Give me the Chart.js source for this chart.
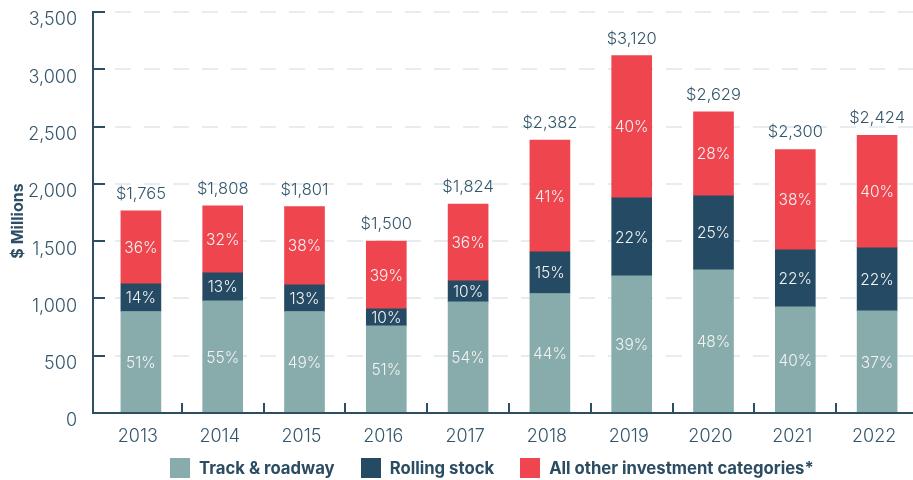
<!DOCTYPE html>
<html>
<head>
<meta charset="utf-8">
<script src="https://cdn.jsdelivr.net/npm/chart.js@4"></script>
<style>
  html, body { margin: 0; padding: 0; background: #fff; overflow: hidden; }
  #wrap { position: relative; width: 913px; height: 480px; overflow: hidden; }
  #chart { position: absolute; left: 0; top: 0; }
  #legend { position: absolute; left: 170px; top: 458px; display: flex; align-items: center;
            font-family: Inter, "Noto Sans", sans-serif; font-weight: 700; font-size: 16.7px; color: #2b4c62; }
  .item { display: flex; align-items: center; margin-right: 26px; }
  .sw { width: 20px; height: 20px; margin-right: 9px; }
</style>
</head>
<body>
<div id="wrap">
  <canvas id="chart" width="920" height="480"></canvas>
  <div id="legend"></div>
</div>
<script>
const years = ['2013', '2014', '2015', '2016', '2017', '2018', '2019', '2020', '2021', '2022'];
const totals = [1765, 1808, 1801, 1500, 1824, 2382, 3120, 2629, 2300, 2424];
// $ millions per category
const trackRoadway = [886, 979, 886, 761, 971, 1043, 1197, 1250, 927, 892];
const rollingStock = [242, 245, 233, 149, 183, 364, 681, 645, 497, 550];
const otherInvestment = [637, 584, 682, 590, 670, 975, 1242, 734, 876, 982];
// share labels printed in the bars
const trackPct = ['51%', '55%', '49%', '51%', '54%', '44%', '39%', '48%', '40%', '37%'];
const rollingPct = ['14%', '13%', '13%', '10%', '10%', '15%', '22%', '25%', '22%', '22%'];
const otherPct = ['36%', '32%', '38%', '39%', '36%', '41%', '40%', '28%', '38%', '40%'];
const yTicks = [0, 500, 1000, 1500, 2000, 2500, 3000, 3500];

const seriesNames = ['Track & roadway', 'Rolling stock', 'All other investment categories*'];
const colors = ['#87acab', '#244b63', '#ef454e'];
const axisColor = '#2d4f65';
const textColor = '#34566c';
const gridColor = '#e7ecef';
const FONT = 'Inter, "Noto Sans", sans-serif';

const pctLabels = [trackPct, rollingPct, otherPct];

// axes, gridlines, labels drawn by hand to match the original look
const decor = {
    id: 'decor',
    beforeDatasetsDraw(chart) {
        const { ctx, chartArea: a, scales: { y } } = chart;
        const axisX = a.left - 7;
        ctx.save();
        ctx.strokeStyle = gridColor;
        ctx.lineWidth = 2;
        ctx.setLineDash([16, 13]);
        yTicks.forEach(v => {
            if (v === 0) return;
            const py = Math.round(y.getPixelForValue(v));
            ctx.beginPath();
            ctx.moveTo(axisX + 22, py);
            ctx.lineTo(a.right, py);
            ctx.stroke();
        });
        ctx.restore();
    },
    afterDatasetsDraw(chart) {
        const { ctx, chartArea: a, scales: { x, y } } = chart;
        const axisX = a.left - 7;
        const baseY = Math.round(y.getPixelForValue(0));
        ctx.save();
        ctx.strokeStyle = axisColor;
        ctx.lineWidth = 2;
        ctx.beginPath();
        ctx.moveTo(axisX, Math.round(y.getPixelForValue(3500)) - 1);
        ctx.lineTo(axisX, baseY);
        ctx.lineTo(chart.width, baseY);
        ctx.stroke();
        yTicks.forEach(v => {
            if (v === 0) return;
            const py = Math.round(y.getPixelForValue(v));
            ctx.beginPath();
            ctx.moveTo(axisX, py);
            ctx.lineTo(axisX + 12, py);
            ctx.stroke();
        });
        for (let i = 0; i < years.length - 1; i++) {
            const px = Math.round((x.getPixelForValue(i) + x.getPixelForValue(i + 1)) / 2);
            ctx.beginPath();
            ctx.moveTo(px, baseY - 10);
            ctx.lineTo(px, baseY);
            ctx.stroke();
        }

        // percentages inside segments
        ctx.textAlign = 'center';
        ctx.textBaseline = 'middle';
        ctx.font = '300 15.5px ' + FONT;
        chart.data.datasets.forEach((ds, d) => {
            chart.getDatasetMeta(d).data.forEach((bar, i) => {
                ctx.fillStyle = '#f3f3f3';
                ctx.fillText(pctLabels[d][i], bar.x, (bar.y + bar.base) / 2 + 1);
            });
        });

        // totals on top
        ctx.font = '300 16.5px ' + FONT;
        ctx.fillStyle = textColor;
        ctx.textBaseline = 'alphabetic';
        const top = chart.getDatasetMeta(2).data;
        top.forEach((bar, i) => {
            ctx.fillText('$' + totals[i].toLocaleString('en-US'), bar.x, bar.y - 12);
        });

        // y axis title
        ctx.translate(18, 221);
        ctx.rotate(-Math.PI / 2);
        ctx.font = 'bold 16px ' + FONT;
        ctx.textBaseline = 'middle';
        ctx.fillStyle = axisColor;
        ctx.fillText('$ Millions', 0, 0);
        ctx.restore();
    }
};

new Chart(document.getElementById('chart'), {
    type: 'bar',
    data: {
        labels: years,
        datasets: [trackRoadway, rollingStock, otherInvestment].map((vals, k) => ({
            label: seriesNames[k],
            data: vals,
            backgroundColor: colors[k],
            borderWidth: 0,
            barThickness: 40
        }))
    },
    options: {
        responsive: false,
        animation: false,
        layout: { padding: { top: 12, right: 2, left: 0, bottom: 0 } },
        plugins: { legend: { display: false }, tooltip: { enabled: false } },
        scales: {
            x: {
                stacked: true,
                grid: { display: false },
                border: { display: false },
                ticks: { color: textColor, font: { family: FONT, size: 18, weight: 300 }, padding: 5, labelOffset: -3 },
                afterFit(scale) { scale.height = 480 - 413; }
            },
            y: {
                stacked: true,
                min: 0,
                max: 3500,
                grid: { display: false },
                border: { display: false },
                ticks: {
                    stepSize: 500,
                    padding: 15,
                    labelOffset: 8,
                    color: textColor,
                    font: { family: FONT, size: 18, weight: 300 },
                    callback: v => v.toLocaleString('en-US')
                },
                afterFit(scale) {
                    scale.width = 100;
                    scale.paddingTop = 0;
                    scale.paddingBottom = 0;
                }
            }
        }
    },
    plugins: [decor]
});

// legend as html under the plot
const legend = document.getElementById('legend');
seriesNames.forEach((name, k) => {
    const item = document.createElement('div');
    item.className = 'item';
    item.innerHTML = `<span class="sw" style="background:${colors[k]}"></span><span>${name}</span>`;
    legend.appendChild(item);
});
</script>
</body>
</html>
